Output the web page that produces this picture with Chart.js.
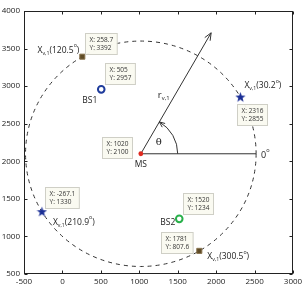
<!DOCTYPE html>
<html>
<head>
<meta charset="utf-8">
<script src="https://cdn.jsdelivr.net/npm/chart.js@4/dist/chart.umd.min.js"></script>
<style>
  body { margin: 0; background: #fff; }
  canvas { display: block; }
</style>
</head>
<body>
<canvas id="chart" width="302" height="291"></canvas>
<script>
// values
const xTicks = [-500, 0, 500, 1000, 1500, 2000, 2500, 3000];
const yTicks = [500, 1000, 1500, 2000, 2500, 3000, 3500, 4000];

const msX = [1020];
const msY = [2100];

const bsNames = ['BS1', 'BS2'];
const bsX = [505, 1520];
const bsY = [2957, 1234];

const vehAngles = [120.5, 30.2, 210.9, 300.5];
const vehX = [258.7, 2316, -267.1, 1781];
const vehY = [3392, 2855, 1330, 807.6];

const circleR = 1500;
const arrowEnd = [1935, 3710];
const zeroEnd = [2520, 2100];
const thetaR = 480;

// label placement (pixels, relative to the point)
const vehLabelPos = [[-3, -4, 'right'], [4, -9, 'left'], [11, 13, 'left'], [8, 8, 'left']];
const vehTipPos = [[3, -24], [-3, 7], [3, -25], [-38, -19]];
const bsLabelPos = [[-4, 11], [-4, 4]];
const bsTipPos = [[4, -26], [4, -26]];
const msTipPos = [-39, -17];

const FONT = '"Open Sans", sans-serif';

// filled pentagram for the stars
function starImage(color) {
  const c = document.createElement('canvas');
  c.width = 11; c.height = 11;
  const g = c.getContext('2d');
  g.fillStyle = color;
  g.beginPath();
  for (let i = 0; i < 10; i++) {
    const r = i % 2 ? 2.2 : 5.4;
    const a = -Math.PI / 2 + i * Math.PI / 5;
    const px = 5.5 + r * Math.cos(a), py = 5.8 + r * Math.sin(a);
    i ? g.lineTo(px, py) : g.moveTo(px, py);
  }
  g.closePath();
  g.fill();
  return c;
}

function pts(xs, ys, idx) {
  return idx.map(i => ({ x: xs[i], y: ys[i] }));
}

// text with subscript / superscript pieces
function richText(ctx, parts, x, y, align, size) {
  const fontFor = k => (k === 'n' ? size : size * 0.62) + 'px ' + FONT;
  let w = 0;
  parts.forEach(p => { ctx.font = fontFor(p[1]); w += ctx.measureText(p[0]).width; });
  let cx = align === 'right' ? x - w : align === 'center' ? x - w / 2 : x;
  ctx.textAlign = 'left';
  ctx.textBaseline = 'alphabetic';
  parts.forEach(p => {
    ctx.font = fontFor(p[1]);
    const dy = p[1] === 'sub' ? size * 0.25 : p[1] === 'sup' ? -size * 0.62 : 0;
    ctx.fillText(p[0], cx, y + dy);
    cx += ctx.measureText(p[0]).width;
  });
}

function dataTip(ctx, px, py, off, xv, yv) {
  const lines = ['X: ' + xv, 'Y: ' + yv];
  ctx.font = '6.5px ' + FONT;
  const w = Math.max(...lines.map(l => ctx.measureText(l).width)) + 8;
  const bx = Math.round(px + off[0]) + 0.5, by = Math.round(py + off[1]) + 0.5;
  ctx.fillStyle = 'rgba(250,250,240,0.95)';
  ctx.strokeStyle = '#cfcfc6';
  ctx.lineWidth = 1;
  ctx.fillRect(bx, by, w, 21);
  ctx.strokeRect(bx, by, w, 21);
  ctx.fillStyle = '#333';
  ctx.textAlign = 'left';
  ctx.textBaseline = 'middle';
  ctx.fillText(lines[0], bx + 4, by + 6.5);
  ctx.fillText(lines[1], bx + 4, by + 15);
}

function arrowHead(ctx, tx, ty, ang, len) {
  ctx.beginPath();
  ctx.moveTo(tx - len * Math.cos(ang - 0.4), ty - len * Math.sin(ang - 0.4));
  ctx.lineTo(tx, ty);
  ctx.lineTo(tx - len * Math.cos(ang + 0.4), ty - len * Math.sin(ang + 0.4));
  ctx.stroke();
}

const geometry = {
  id: 'geometry',
  beforeDatasetsDraw(chart) {
    const { ctx, scales: { x, y } } = chart;
    const cx = x.getPixelForValue(msX[0]), cy = y.getPixelForValue(msY[0]);
    ctx.save();
    // dashed circle
    const rx = x.getPixelForValue(msX[0] + circleR) - cx;
    const ry = cy - y.getPixelForValue(msY[0] + circleR);
    ctx.strokeStyle = '#333';
    ctx.lineWidth = 1;
    ctx.setLineDash([4, 4]);
    ctx.beginPath();
    ctx.ellipse(cx, cy, rx, ry, 0, 0, Math.PI * 2);
    ctx.stroke();
    ctx.setLineDash([]);
    // 0 degree line
    ctx.beginPath();
    ctx.moveTo(cx, cy);
    ctx.lineTo(x.getPixelForValue(zeroEnd[0]), y.getPixelForValue(zeroEnd[1]));
    ctx.stroke();
    // r arrow
    const ax = x.getPixelForValue(arrowEnd[0]), ay = y.getPixelForValue(arrowEnd[1]);
    ctx.beginPath();
    ctx.moveTo(cx, cy);
    ctx.lineTo(ax, ay);
    ctx.stroke();
    const ang = Math.atan2(ay - cy, ax - cx);
    arrowHead(ctx, ax, ay, ang, 8);
    // theta arc
    const tr = x.getPixelForValue(msX[0] + thetaR) - cx;
    ctx.beginPath();
    ctx.arc(cx, cy, tr, 0, ang, true);
    ctx.stroke();
    const ex = cx + tr * Math.cos(ang), ey = cy + tr * Math.sin(ang);
    arrowHead(ctx, ex, ey, ang - Math.PI / 2 + 0.15, 6);
    ctx.restore();
  },
  afterDatasetsDraw(chart) {
    const { ctx, chartArea: a, scales: { x, y } } = chart;
    const cx = x.getPixelForValue(msX[0]), cy = y.getPixelForValue(msY[0]);
    ctx.save();
    ctx.fillStyle = '#222';
    // vehicle labels and tips
    vehX.forEach((v, i) => {
      const px = x.getPixelForValue(v), py = y.getPixelForValue(vehY[i]);
      const p = vehLabelPos[i];
      ctx.fillStyle = '#222';
      richText(ctx, [['X', 'n'], ['v,1', 'sub'], ['(' + vehAngles[i].toFixed(1), 'n'], ['o', 'sup'], [')', 'n']],
        px + p[0], py + p[1], p[2], 8.5);
      dataTip(ctx, px, py, vehTipPos[i], v, vehY[i]);
    });
    bsX.forEach((v, i) => {
      const px = x.getPixelForValue(v), py = y.getPixelForValue(bsY[i]);
      ctx.fillStyle = '#222';
      ctx.font = '8.5px ' + FONT;
      ctx.textAlign = 'right';
      ctx.textBaseline = 'middle';
      ctx.fillText(bsNames[i], px + bsLabelPos[i][0], py + bsLabelPos[i][1]);
      dataTip(ctx, px, py, bsTipPos[i], v, bsY[i]);
    });
    ctx.fillStyle = '#222';
    ctx.font = '8.5px ' + FONT;
    ctx.textAlign = 'center';
    ctx.textBaseline = 'middle';
    ctx.fillText('MS', cx, cy + 11);
    dataTip(ctx, cx, cy, msTipPos, msX[0], msY[0]);
    // r, theta, 0 degree
    ctx.fillStyle = '#222';
    richText(ctx, [['r', 'n'], ['v,1', 'sub']], cx + 17, cy - 56, 'left', 9.5);
    ctx.font = '10px "DejaVu Serif", serif';
    ctx.textAlign = 'center';
    ctx.textBaseline = 'middle';
    ctx.fillText('\u03b8', cx + 18, cy - 11);
    richText(ctx, [['0', 'n'], ['o', 'sup']], x.getPixelForValue(zeroEnd[0]) + 5, cy + 4, 'left', 9);
    // axes box with inward ticks
    ctx.strokeStyle = '#222';
    ctx.lineWidth = 1;
    const L = Math.round(a.left) + 0.5, R = Math.round(a.right) - 0.5;
    const T = Math.round(a.top) + 0.5, B = Math.round(a.bottom) - 0.5;
    ctx.strokeRect(L, T, R - L, B - T);
    ctx.beginPath();
    xTicks.forEach(t => {
      const p = Math.round(x.getPixelForValue(t)) + 0.5;
      ctx.moveTo(p, B); ctx.lineTo(p, B - 3);
      ctx.moveTo(p, T); ctx.lineTo(p, T + 3);
    });
    yTicks.forEach(t => {
      const p = Math.round(y.getPixelForValue(t)) + 0.5;
      ctx.moveTo(L, p); ctx.lineTo(L + 3, p);
      ctx.moveTo(R, p); ctx.lineTo(R - 3, p);
    });
    ctx.stroke();
    ctx.restore();
  }
};

function fixSize(prop, val) {
  return s => {
    s[prop] = val;
    s.paddingLeft = s.paddingRight = s.paddingTop = s.paddingBottom = 0;
  };
}

new Chart(document.getElementById('chart'), {
  type: 'scatter',
  data: {
    datasets: [
      {
        data: pts(vehX, vehY, [0, 3]),
        pointStyle: 'rect', pointRadius: 3.6,
        backgroundColor: '#5f4b26', borderColor: '#8a7550', borderWidth: 1
      },
      {
        data: pts(vehX, vehY, [1, 2]),
        pointStyle: starImage('#1b2f96')
      },
      {
        data: pts(bsX, bsY, [0]),
        pointStyle: 'circle', pointRadius: 3.3,
        backgroundColor: '#fff', borderColor: '#1f3c9c', borderWidth: 2
      },
      {
        data: pts(bsX, bsY, [1]),
        pointStyle: 'circle', pointRadius: 3.3,
        backgroundColor: '#fff', borderColor: '#28b04a', borderWidth: 2
      },
      {
        data: pts(msX, msY, [0]),
        pointStyle: 'circle', pointRadius: 2.4,
        backgroundColor: '#e0291f', borderColor: '#e0291f', borderWidth: 0
      }
    ]
  },
  options: {
    responsive: false,
    animation: false,
    layout: { padding: { top: 11, right: 9, left: 0, bottom: 0 } },
    plugins: { legend: { display: false }, tooltip: { enabled: false } },
    scales: {
      x: {
        type: 'linear', min: -500, max: 3000,
        afterBuildTicks: s => { s.ticks = xTicks.map(v => ({ value: v })); },
        afterFit: fixSize('height', 17),
        grid: { display: false, drawTicks: false },
        border: { display: false },
        ticks: { padding: 3, color: '#222', font: { family: FONT, size: 8 }, maxRotation: 0,
                 callback: v => String(v) }
      },
      y: {
        type: 'linear', min: 500, max: 4000,
        afterBuildTicks: s => { s.ticks = yTicks.map(v => ({ value: v })); },
        afterFit: fixSize('width', 24),
        grid: { display: false, drawTicks: false },
        border: { display: false },
        ticks: { padding: 4, color: '#222', font: { family: FONT, size: 8 },
                 callback: v => String(v) }
      }
    }
  },
  plugins: [geometry]
});
</script>
</body>
</html>
